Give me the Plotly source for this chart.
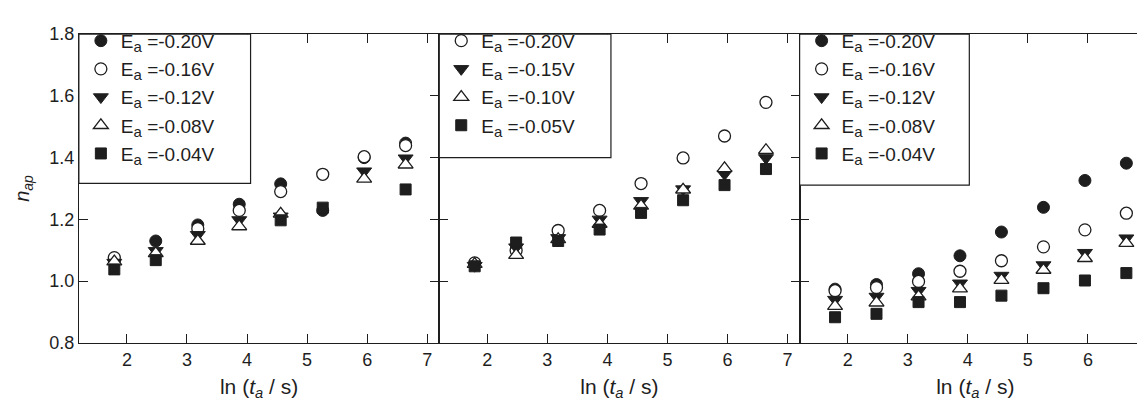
import plotly.graph_objects as go

# ---------------- data ----------------
ln_t = [1.79, 2.48, 3.18, 3.87, 4.56, 5.26, 5.95, 6.64]

# panel 1
p1_labels = ["-0.20", "-0.16", "-0.12", "-0.08", "-0.04"]
p1_m020 = [1.065, 1.130, 1.182, 1.249, 1.315, 1.229, 1.400, 1.447]
p1_m016 = [1.076, None, 1.170, 1.229, 1.290, 1.346, 1.403, 1.439]
p1_m012 = [1.060, 1.098, 1.150, 1.198, 1.210, None, 1.356, 1.398]
p1_m008 = [1.063, 1.090, 1.130, 1.177, 1.218, None, 1.331, 1.377]
p1_m004 = [1.038, 1.068, None, None, 1.197, 1.238, None, 1.297]

# panel 2
p2_labels = ["-0.20", "-0.15", "-0.10", "-0.05"]
p2_m020 = [1.059, 1.099, 1.164, 1.229, 1.316, 1.399, 1.470, 1.579]
p2_m015 = [1.050, 1.110, 1.140, 1.200, 1.260, 1.298, 1.347, 1.399]
p2_m010 = [1.055, 1.084, 1.135, 1.185, 1.244, 1.296, 1.365, 1.424]
p2_m005 = [1.048, 1.125, 1.130, 1.167, 1.221, 1.262, 1.311, 1.363]

# panel 3
p3_labels = ["-0.20", "-0.16", "-0.12", "-0.08", "-0.04"]
p3_m020 = [0.974, 0.989, 1.024, 1.082, 1.159, 1.239, 1.326, 1.382]
p3_m016 = [0.969, 0.979, 0.999, 1.032, 1.066, 1.111, 1.166, 1.220]
p3_m012 = [0.940, 0.950, 0.969, 0.993, 1.018, 1.052, 1.092, 1.139]
p3_m008 = [0.919, 0.930, 0.950, 0.976, 1.003, 1.036, 1.074, 1.123]
p3_m004 = [0.883, 0.894, 0.932, 0.932, 0.953, 0.977, 1.002, 1.026]

x_ticks = [2, 3, 4, 5, 6, 7]
y_ticks = [0.8, 1.0, 1.2, 1.4, 1.6, 1.8]

# ---------------- styles ----------------
INK = "#1e1e1e"
FONT = "Liberation Sans, Arial, Helvetica, sans-serif"
W, H = 1145, 399

sym_fc = dict(symbol="circle", size=12, color=INK, line=dict(color=INK, width=1))
sym_oc = dict(symbol="circle", size=12, color="white", line=dict(color=INK, width=1.3))
sym_td = dict(symbol="triangle-down", size=13, color=INK, line=dict(color=INK, width=1))
sym_tu = dict(symbol="triangle-up", size=13, color="white", line=dict(color=INK, width=1.3))
sym_sq = dict(symbol="square", size=11, color=INK, line=dict(color=INK, width=1))

fig = go.Figure()


def add(xa, ya, leg, idx, ys, label, marker):
    fig.add_trace(go.Scatter(
        x=ln_t, y=ys, mode="markers", xaxis=xa, yaxis=ya,
        legend=leg, legendgroup=leg + "_" + str(idx),
        name="E<sub><span style='font-size:15px'>a</span></sub> =" + label + "V",
        marker=marker, showlegend=True,
    ))


# panel 1
for i, (ys, lab, mk) in enumerate(zip([p1_m020, p1_m016, p1_m012, p1_m008, p1_m004], p1_labels,
                                      [sym_fc, sym_oc, sym_td, sym_tu, sym_sq])):
    add("x", "y", "legend", i, ys, lab, mk)
# panel 2
for i, (ys, lab, mk) in enumerate(zip([p2_m020, p2_m015, p2_m010, p2_m005], p2_labels,
                                      [sym_oc, sym_td, sym_tu, sym_sq])):
    add("x2", "y2", "legend2", i, ys, lab, mk)
# panel 3
for i, (ys, lab, mk) in enumerate(zip([p3_m020, p3_m016, p3_m012, p3_m008, p3_m004], p3_labels,
                                      [sym_fc, sym_oc, sym_td, sym_tu, sym_sq])):
    add("x3", "y3", "legend3", i, ys, lab, mk)

# ---------------- layout ----------------
px = lambda v: v / W
py = lambda v: (H - v) / H
ybot, ytop = py(342), py(17)
doms = [(px(71), px(432)), (px(432), px(793)), (px(793), 1.0)]
xranges = [[1.2, 7.2], [1.2, 7.2], [1.2, 1.2 + 352 / 60.17]]

axis_common = dict(
    showline=True, linecolor=INK, linewidth=1.2, ticks="inside", ticklen=9,
    tickwidth=1.2, tickcolor=INK, showgrid=False, zeroline=False,
    tickfont=dict(family=FONT, size=18, color=INK),
    ticklabeloverflow="allow",
)

xtitle = "ln (<i>t</i><sub><i>a</i></sub> / s)"
for i, (dom, xr) in enumerate(zip(doms, xranges)):
    sfx = "" if i == 0 else str(i + 1)
    fig.layout["xaxis" + sfx] = dict(
        axis_common, domain=list(dom), range=xr, tickvals=x_ticks,
        mirror="ticks", anchor="y" + sfx,
        title=dict(text=xtitle, font=dict(family=FONT, size=21, color=INK), standoff=10),
    )
    fig.layout["yaxis" + sfx] = dict(
        axis_common, domain=[ybot, ytop], range=[0.8, 1.8], tickvals=y_ticks,
        tickformat=".1f", mirror=("ticks" if i < 2 else False), anchor="x" + sfx,
        showticklabels=(i == 0),
        title=dict(text=("<i>n</i><sub><i>ap</i></sub>" if i == 0 else ""),
                   font=dict(family=FONT, size=20, color=INK), standoff=14),
    )

# legend frames (white boxes with black border), legends drawn on top
boxes = [(71, 17, 243, 174), (432, 17, 604, 147), (793, 17, 963, 176)]
for (x0, y0, x1, y1) in boxes:
    fig.add_shape(type="rect", xref="paper", yref="paper",
                  x0=px(x0), x1=px(x1), y0=py(y1), y1=py(y0),
                  fillcolor="white", line=dict(color=INK, width=1.2), layer="above")

leg_common = dict(
    xanchor="left", yanchor="top", bgcolor="rgba(0,0,0,0)", borderwidth=0,
    font=dict(family=FONT, size=19, color=INK),
    tracegroupgap=0.5, itemsizing="trace",
)
fig.layout.legend = dict(leg_common, x=px(73), y=py(4))
fig.layout.legend2 = dict(leg_common, x=px(434), y=py(4))
fig.layout.legend3 = dict(leg_common, x=px(795), y=py(4))

fig.update_layout(
    width=W, height=H, margin=dict(l=0, r=0, t=0, b=0),
    plot_bgcolor="white", paper_bgcolor="white",
    font=dict(family=FONT, color=INK),
)

fig.write_html("out.html")
